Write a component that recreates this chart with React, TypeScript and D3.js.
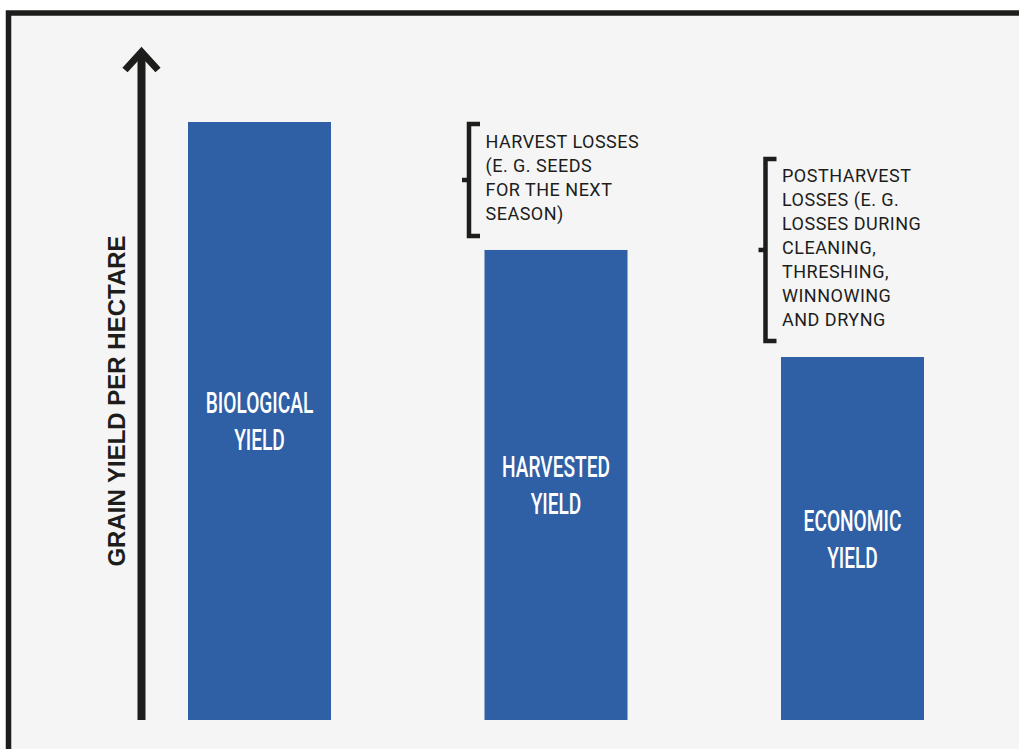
import React from "react";
import * as d3 from "d3";

const categories = ["Biological yield", "Harvested yield", "Economic yield"];
const barLabels = [["BIOLOGICAL", "YIELD"], ["HARVESTED", "YIELD"], ["ECONOMIC", "YIELD"]];
const values = [100, 78.6, 60.7];
const axisTitle = "GRAIN YIELD PER HECTARE";
const annotations = [
  { from: 0, to: 1, lines: ["HARVEST LOSSES", "(E. G. SEEDS", "FOR THE NEXT", "SEASON)"] },
  { from: 1, to: 2, lines: ["POSTHARVEST", "LOSSES (E. G.", "LOSSES DURING", "CLEANING,", "THRESHING,", "WINNOWING", "AND DRYNG"] },
];

const W = 1019;
const H = 749;
const BLUE = "#2f5fa5";
const INK = "#1d1d1b";

export default function App() {
  const x = d3.scaleBand<string>().domain(categories).range([188, 924]).paddingInner(0.5177).paddingOuter(0);
  const y = d3.scaleLinear().domain([0, 100]).range([720, 122]);
  const bw = x.bandwidth();

  return (
    <svg width={W} height={H} style={{ position: "absolute", left: 0, top: 0, background: "#ffffff" }}>
      <rect x={8.5} y={13} width={W + 20} height={H + 20} fill="#f5f5f5" stroke={INK} strokeWidth={5.5} />
      {/* axis arrow */}
      <line x1={141.5} x2={141.5} y1={720} y2={52} stroke={INK} strokeWidth={8} />
      <polyline points="125,70 141.5,52 158,70" fill="none" stroke={INK} strokeWidth={7} strokeLinejoin="miter" strokeMiterlimit={10} />
      <text
        transform={`translate(125,401) rotate(-90)`}
        textAnchor="middle"
        fontFamily="'Liberation Sans', Arial, sans-serif"
        fontWeight="bold"
        fontSize={24}
        letterSpacing={0}
        fill={INK}
      >
        {axisTitle}
      </text>
      {categories.map((c, i) => {
        const x0 = x(c)!;
        const top = y(values[i]);
        const cy = (top + y(0)) / 2;
        const cx = x0 + bw / 2;
        return (
          <g key={c}>
            <rect x={x0} y={top} width={bw} height={y(0) - top} fill={BLUE} />
            {barLabels[i].map((t, j) => (
              <text
                key={j}
                transform={`translate(${cx},${cy + (j - 0.5) * 37 + 10.5}) scale(0.66,1)`}
                textAnchor="middle"
                fontFamily="Roboto, sans-serif"
                fontWeight={500}
                fontSize={29}
                fill="#ffffff"
              >
                {t}
              </text>
            ))}
          </g>
        );
      })}
      {annotations.map((a, k) => {
        const c = categories[a.to];
        const x0 = x(c)!;
        const top = y(values[a.from]);
        const bot = y(values[a.to]);
        const prevTop = y(values[a.from]);
        let y1: number, y2: number;
        if (k === 0) {
          y1 = top;
          y2 = bot - 12;
        } else {
          y1 = prevTop - 93;
          y2 = prevTop + 93;
        }
        const bx = x0 - 15.5;
        const mid = (y1 + y2) / 2;
        const n = a.lines.length;
        const ty0 = mid - 2 - ((n - 1) * 24) / 2;
        return (
          <g key={k}>
            <path
              d={`M${bx + 11},${y1 + 2} H${bx} V${y2 - 2} H${bx + 11}`}
              fill="none"
              stroke={INK}
              strokeWidth={4.5}
            />
            <line x1={bx - 7} x2={bx} y1={mid} y2={mid} stroke={INK} strokeWidth={4.5} />
            {a.lines.map((t, j) => (
              <text
                key={j}
                x={x0 + 1}
                y={ty0 + j * 24 + 6.5}
                fontFamily="Roboto, sans-serif"
                fontSize={18}
                letterSpacing={0.5}
                fill={INK}
              >
                {t}
              </text>
            ))}
          </g>
        );
      })}
    </svg>
  );
}
